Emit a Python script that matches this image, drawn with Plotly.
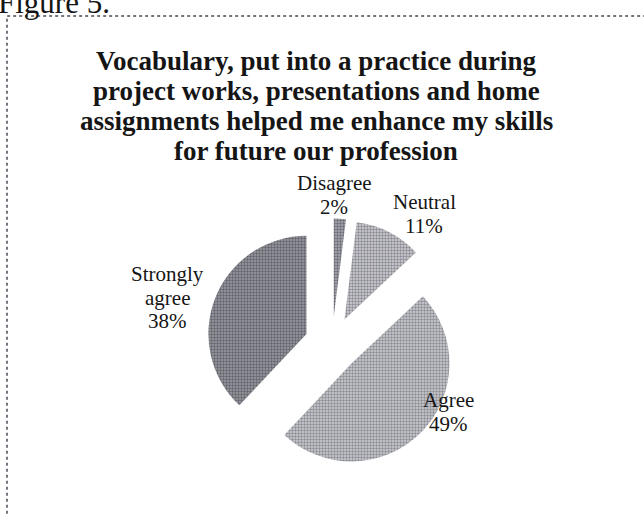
import plotly.graph_objects as go

labels = ['Disagree', 'Neutral', 'Agree', 'Strongly agree']
label_lines = [['Disagree'], ['Neutral'], ['Agree'], ['Strongly', 'agree']]
values = [2, 11, 49, 38]

title_lines = ['Vocabulary, put into a practice during',
               'project works, presentations and home',
               'assignments helped me enhance my skills',
               'for future our profession']

# slice look: grey halftone checker
fg_colors = ['#6c6c76', '#8a8a92', '#8c8c94', '#64646c']
bg_colors = ['#acacb4', '#d2d2d8', '#cfcfd6', '#9c9ca4']

# first-line baseline of each label (pixels in the 644x515 page)
label_pos = [(334, 192), (424, 211), (448, 409), (167, 283)]

W, H = 644, 515
serif = 'Liberation Serif, Times New Roman, serif'


def ann(text, x, base, size, bold=False, xanchor='center'):
    # one line of text with its baseline at `base` px
    return dict(text=f'<b>{text}</b>' if bold else text,
                x=x / W, y=1 - (base - 0.41 * size) / H,
                xref='paper', yref='paper', xanchor=xanchor, yanchor='middle',
                showarrow=False,
                font=dict(family=serif, size=size, color='#151515'))


fig = go.Figure(go.Pie(
    labels=labels,
    values=values,
    sort=False,
    direction='clockwise',
    rotation=0,
    pull=0.28,
    textinfo='none',
    hoverinfo='label+percent',
    marker=dict(colors=bg_colors,
                pattern=dict(shape='.', fgcolor=fg_colors, bgcolor=bg_colors,
                             size=3, solidity=0.5),
                line=dict(width=0)),
    domain=dict(x=[206.5 / W, 457.5 / W], y=[1 - 469.5 / H, 1 - 218.5 / H]),
    showlegend=False,
))

annotations = []
for lines, v, (px, py) in zip(label_lines, values, label_pos):
    for i, t in enumerate(lines + [f'{v}%']):
        annotations.append(ann(t, px, py + i * 23.5, 21))

for i, t in enumerate(title_lines):
    annotations.append(ann(t, 316, 72 + i * 30, 27, bold=True))

annotations.append(ann('Figure 5.', -4, 15, 31, xanchor='left'))

fig.update_layout(
    width=W, height=H,
    margin=dict(l=0, r=0, t=0, b=0),
    paper_bgcolor='white',
    plot_bgcolor='white',
    annotations=annotations,
    shapes=[dict(type='rect', xref='paper', yref='paper',
                 x0=7 / W, x1=1.05, y0=-0.05, y1=1 - 16 / H,
                 line=dict(color='#4a4a55', width=1.5, dash='dot'))],
)

# page body has an 8px default margin; drop it so the figure sits at 0,0
fig.write_html('out.html', config={'displayModeBar': False},
               post_script="document.body.style.margin='0';")
